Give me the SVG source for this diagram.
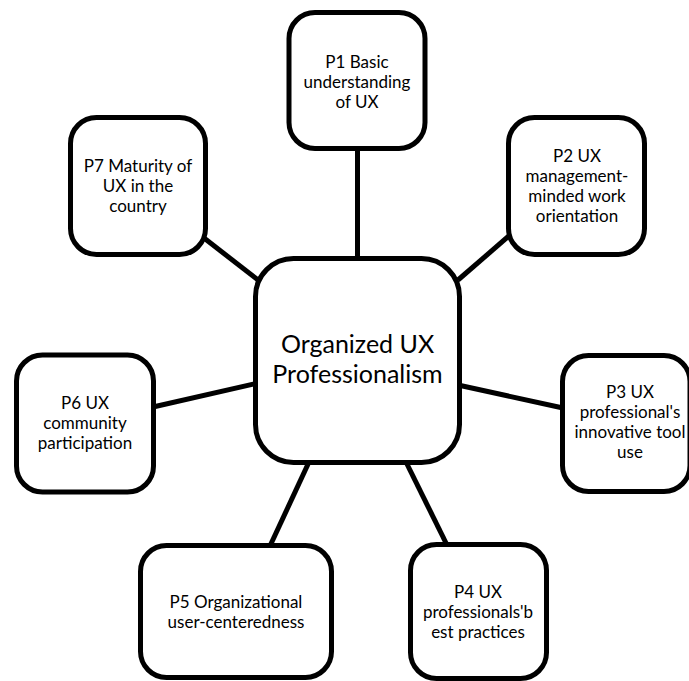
<svg xmlns="http://www.w3.org/2000/svg" width="689" height="681" viewBox="0 0 689 681">
<style>
.box{fill:#fff;stroke:#000;stroke-width:5}
.edge{stroke:#000;stroke-width:5;fill:none}
text{font-family:Lato,"Open Sans",sans-serif;fill:#000;text-anchor:middle}
.t{font-size:17px}
.c{font-size:25px}
</style>
<rect width="689" height="681" fill="#fff"/>
<g id="connectors">
<line class="edge" x1="357.5" y1="148" x2="357.5" y2="259"/>
<line class="edge" x1="510" y1="235" x2="458" y2="280"/>
<line class="edge" x1="458" y1="385" x2="563" y2="408"/>
<line class="edge" x1="406" y1="462" x2="447" y2="545"/>
<line class="edge" x1="309" y1="462" x2="270" y2="546"/>
<line class="edge" x1="153" y1="407" x2="258" y2="383"/>
<line class="edge" x1="204" y1="238" x2="258" y2="280"/>
</g>
<g id="center">
<rect class="box" x="255.5" y="258.5" width="204" height="204" rx="38"/>
<text class="c" x="357.5" y="353">Organized UX</text>
<text class="c" x="357.5" y="383">Professionalism</text>
</g>
<g id="p1">
<rect class="box" x="289" y="12.5" width="136" height="136" rx="26"/>
<text class="t" x="357" y="68">P1 Basic</text>
<text class="t" x="357" y="88">understanding</text>
<text class="t" x="357" y="108">of UX</text>
</g>
<g id="p2">
<rect class="box" x="508.5" y="117.5" width="136" height="137" rx="26"/>
<text class="t" x="577" y="162">P2 UX</text>
<text class="t" x="577" y="182">management-</text>
<text class="t" x="577" y="202">minded work</text>
<text class="t" x="577" y="222">orientation</text>
</g>
<g id="p3">
<rect class="box" x="562.5" y="355.5" width="127.5" height="136" rx="26"/>
<text class="t" x="630" y="398">P3 UX</text>
<text class="t" x="630" y="418">professional's</text>
<text class="t" x="630" y="438">innovative tool</text>
<text class="t" x="630" y="458">use</text>
</g>
<g id="p4">
<rect class="box" x="410.5" y="544.5" width="136" height="134" rx="26"/>
<text class="t" x="478" y="598">P4 UX</text>
<text class="t" x="478" y="618">professionals'b</text>
<text class="t" x="478" y="638">est practices</text>
</g>
<g id="p5">
<rect class="box" x="140.5" y="545.5" width="191" height="132" rx="26"/>
<text class="t" x="236" y="608">P5 Organizational</text>
<text class="t" x="236" y="628">user-centeredness</text>
</g>
<g id="p6">
<rect class="box" x="16.5" y="355" width="137" height="137" rx="26"/>
<text class="t" x="85" y="409">P6 UX</text>
<text class="t" x="85" y="429">community</text>
<text class="t" x="85" y="449">participation</text>
</g>
<g id="p7">
<rect class="box" x="70.5" y="117.5" width="135" height="137" rx="26"/>
<text class="t" x="138" y="172">P7 Maturity of</text>
<text class="t" x="138" y="192">UX in the</text>
<text class="t" x="138" y="212">country</text>
</g>
</svg>
